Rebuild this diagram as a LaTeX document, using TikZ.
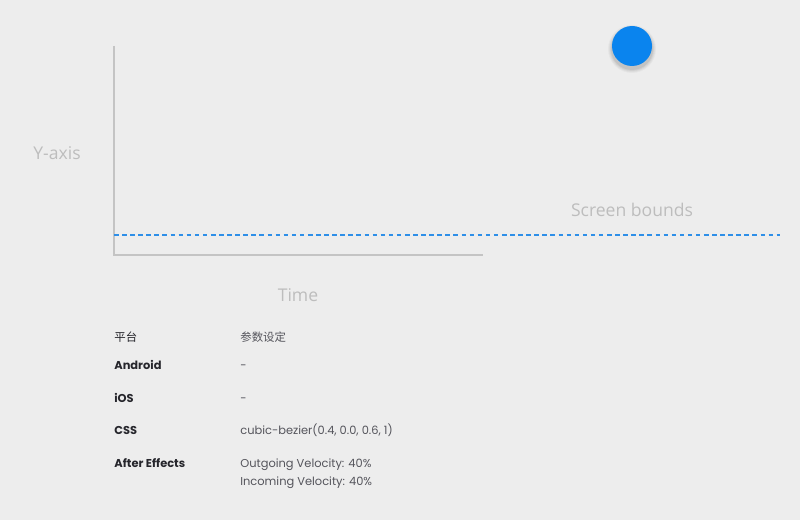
\documentclass[tikz,border=0pt]{standalone}
\usepackage{fontspec}
\setmainfont{Open Sans}
\newfontfamily\tablefont{Poppins}
\newfontfamily\cjk{Noto Sans CJK SC}
\usetikzlibrary{positioning, calc}
\definecolor{bgpaper}{HTML}{EDEDED}
\definecolor{axisgray}{HTML}{C4C4C4}
\definecolor{labelgray}{HTML}{BDBDBD}
\definecolor{boundblue}{HTML}{2E8FE8}
\definecolor{ballblue}{HTML}{0A84EE}
\definecolor{keydark}{HTML}{26262C}
\definecolor{valgray}{HTML}{55555C}

\begin{document}
\begin{tikzpicture}[
  x=0.02cm, y=-0.02cm,
  axis/.style={draw=axisgray, line width=0.8pt},
  axislabel/.style={text=labelgray, font=\fontsize{10}{12}\selectfont},
  keycell/.style={anchor=base west, inner sep=0pt, text=keydark, font=\tablefont\fontsize{6.5}{8}\selectfont\bfseries},
  valcell/.style={anchor=base west, inner sep=0pt, text=valgray, font=\tablefont\fontsize{6.5}{8}\selectfont},
]
  % Paper
  \fill[bgpaper] (0,0) rectangle (800,520);
  \useasboundingbox (0,0) rectangle (800,520);

  % Axes
  \coordinate (ytop) at (114,46);
  \coordinate (origin) at (114,255);
  \coordinate (xend) at (483,255);
  \draw[axis] (ytop) -- (origin) -- (xend);
  \node[axislabel] (ylabel) at (57,153) {Y-axis};
  \node[axislabel] (xlabel) at (298,295) {Time};

  % Screen bounds
  \coordinate (bleft) at (114,235);
  \coordinate (bright) at (780,235);
  \draw[boundblue, line width=0.6pt, dash pattern=on 2.6pt off 2pt] (bleft) -- (bright);
  \node[axislabel] (bounds) at (632,210) {Screen bounds};

  % Ball with soft shadow
  \foreach \r/\o in {24/0.03, 23/0.04, 22/0.05, 21/0.06}
    \fill[black, opacity=\o] (632,49) circle[radius=\r];
  \node[circle, fill=ballblue, minimum size=40*0.02cm, inner sep=0pt] (ball) at (632,46) {};

  % Table
  \node[valcell, text=keydark] (hplat) at (114,341) {\cjk 平台};
  \node[valcell] (hparam) at (240,341) {\cjk 参数设定};
  \node[keycell] (android) at (114,369) {Android};
  \node[valcell] (androidv) at (240,369) {-};
  \node[keycell] (ios) at (114,402) {iOS};
  \node[valcell] (iosv) at (240,402) {-};
  \node[keycell] (css) at (114,434) {CSS};
  \node[valcell] (cssv) at (240,434) {cubic-bezier(0.4, 0.0, 0.6, 1)};
  \node[keycell] (ae) at (114,467) {After Effects};
  \node[valcell] (aeout) at (240,467) {Outgoing Velocity: 40\%};
  \node[valcell] (aein) at (240,485) {Incoming Velocity: 40\%};
\end{tikzpicture}
\end{document}
